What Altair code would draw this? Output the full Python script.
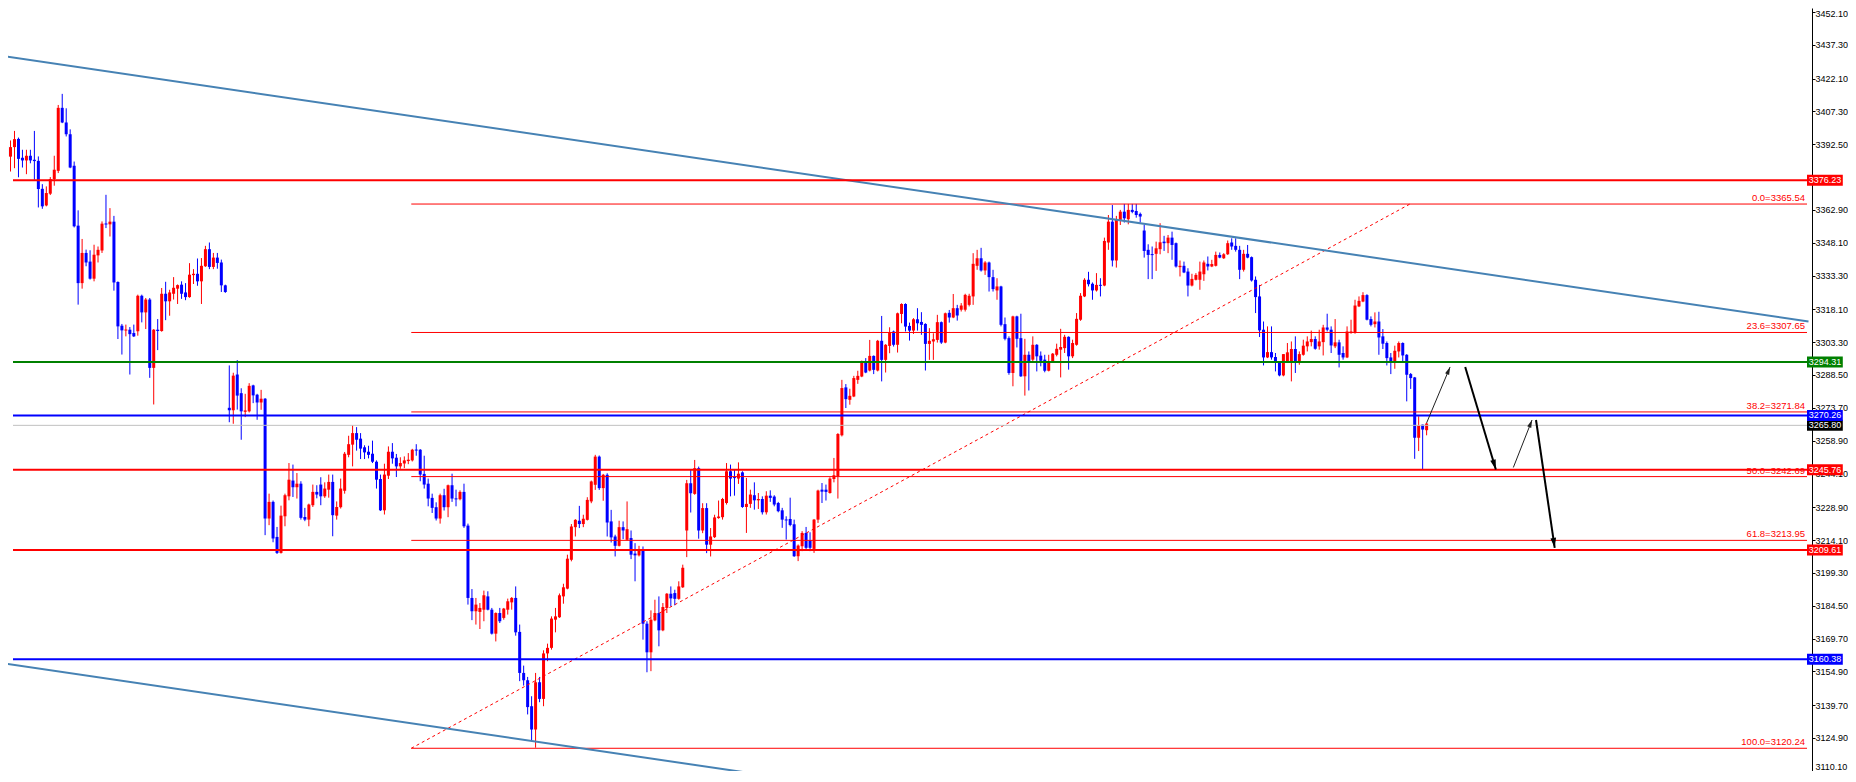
import math
import altair as alt
import pandas as pd

# ---------------- candle data (bar index 0..357) -------------
OPEN = [
3391.8, 3386.9, 3391.2, 3394.9, 3386.4, 3385.2, 3387.3, 3385.5, 3385.0, 3372.4,
3364.9, 3370.2, 3376.8, 3380.5, 3408.9, 3402.3, 3397.0, 3382.8, 3355.8, 3329.9,
3343.5, 3339.6, 3331.9, 3342.4, 3344.6, 3356.7, 3356.4, 3357.6, 3330.4, 3310.7,
3308.6, 3308.9, 3307.4, 3308.2, 3324.2, 3316.7, 3322.5, 3291.7, 3308.9, 3308.3,
3325.1, 3321.7, 3325.1, 3327.4, 3329.2, 3325.7, 3323.6, 3333.5, 3334.1, 3330.7,
3337.5, 3345.2, 3337.2, 3341.4, 3339.2, 3328.9, 3273.7, 3272.6, 3288.7, 3280.3,
3271.9, 3272.1, 3283.8, 3279.6, 3276.1, 3277.8, 3223.8, 3231.3, 3215.5, 3208.3,
3224.8, 3233.8, 3240.9, 3237.9, 3239.5, 3224.5, 3223.3, 3229.8, 3235.8, 3239.1,
3233.8, 3236.8, 3240.3, 3225.1, 3228.9, 3236.3, 3252.5, 3257.1, 3262.3, 3259.8,
3255.9, 3253.9, 3253.0, 3249.4, 3241.6, 3227.5, 3243.1, 3253.9, 3251.2, 3247.3,
3248.6, 3249.7, 3250.0, 3254.8, 3254.8, 3243.9, 3239.5, 3233.1, 3228.9, 3223.8,
3234.3, 3228.9, 3238.8, 3232.8, 3232.5, 3235.8, 3220.6, 3188.0, 3182.0, 3181.7,
3182.7, 3188.7, 3182.7, 3171.9, 3181.2, 3179.0, 3182.7, 3186.0, 3188.0, 3172.7,
3154.2, 3150.9, 3139.2, 3128.7, 3150.0, 3142.5, 3163.0, 3165.5, 3178.2, 3179.3,
3188.7, 3192.2, 3205.2, 3219.9, 3222.8, 3221.3, 3223.2, 3231.5, 3239.0, 3251.7,
3237.5, 3243.5, 3222.5, 3215.7, 3211.5, 3219.9, 3214.2, 3215.0, 3208.0, 3207.2,
3210.0, 3176.4, 3163.5, 3177.9, 3181.2, 3173.4, 3183.5, 3189.9, 3190.2, 3187.6,
3192.8, 3218.4, 3239.7, 3234.9, 3246.5, 3218.4, 3228.5, 3212.0, 3215.4, 3224.0,
3224.4, 3230.8, 3245.1, 3242.4, 3241.8, 3244.6, 3229.0, 3230.4, 3234.3, 3232.0,
3232.6, 3226.6, 3234.1, 3233.7, 3230.8, 3227.5, 3223.3, 3223.6, 3221.2, 3206.8,
3211.3, 3217.3, 3214.0, 3210.1, 3223.3, 3236.8, 3236.8, 3235.3, 3241.6, 3242.8,
3261.3, 3282.9, 3277.3, 3278.8, 3286.3, 3287.8, 3294.6, 3290.5, 3297.1, 3290.5,
3303.9, 3295.3, 3301.6, 3308.1, 3302.1, 3316.0, 3320.5, 3310.6, 3308.5, 3313.6,
3312.4, 3311.5, 3302.5, 3303.6, 3304.3, 3312.3, 3303.1, 3316.5, 3314.4, 3318.6,
3317.9, 3317.9, 3320.1, 3323.9, 3337.7, 3341.1, 3335.6, 3339.2, 3332.6, 3326.6,
3328.4, 3311.4, 3305.1, 3289.4, 3314.9, 3305.1, 3287.9, 3297.6, 3295.4, 3302.1,
3297.2, 3295.4, 3290.4, 3294.6, 3297.6, 3299.9, 3300.6, 3305.7, 3296.9, 3302.1,
3313.4, 3323.9, 3331.4, 3329.6, 3326.6, 3329.1, 3328.8, 3348.2, 3357.6, 3340.1,
3358.4, 3362.1, 3358.7, 3362.9, 3362.4, 3361.1, 3353.6, 3344.9, 3342.9, 3343.1,
3345.2, 3348.6, 3347.9, 3350.4, 3347.9, 3337.1, 3337.7, 3335.1, 3328.8, 3331.4,
3331.4, 3333.9, 3338.6, 3337.4, 3337.7, 3342.6, 3341.1, 3342.9, 3348.2, 3346.7,
3344.9, 3335.9, 3343.1, 3341.6, 3331.4, 3323.9, 3308.9, 3296.4, 3298.8, 3296.6,
3294.2, 3288.3, 3294.6, 3293.9, 3300.2, 3293.9, 3297.6, 3301.4, 3303.3, 3304.7,
3301.4, 3303.3, 3309.9, 3308.9, 3301.4, 3303.2, 3298.4, 3296.4, 3307.4, 3307.4,
3319.4, 3321.6, 3324.5, 3313.7, 3311.4, 3312.6, 3305.9, 3302.9, 3296.4, 3293.9,
3299.1, 3302.9, 3297.6, 3288.9, 3287.4, 3260.2, 3266.1, 3263.6,
]
HIGH = [
3392.9, 3394.2, 3398.5, 3395.5, 3390.0, 3390.0, 3390.0, 3398.5, 3387.0, 3374.5,
3373.5, 3377.7, 3387.3, 3410.2, 3415.2, 3408.7, 3399.2, 3384.7, 3362.7, 3349.8,
3345.0, 3344.7, 3347.2, 3346.4, 3357.7, 3369.7, 3363.7, 3360.2, 3330.7, 3311.5,
3311.2, 3310.1, 3311.2, 3324.7, 3324.7, 3323.2, 3323.2, 3309.2, 3313.7, 3327.7,
3330.5, 3326.9, 3332.6, 3329.3, 3330.7, 3329.9, 3338.9, 3336.2, 3341.0, 3341.2,
3346.7, 3348.2, 3343.5, 3343.5, 3340.5, 3329.2, 3292.8, 3289.5, 3295.2, 3282.5,
3280.0, 3284.8, 3284.1, 3280.0, 3281.8, 3278.1, 3235.0, 3231.9, 3220.0, 3229.6,
3235.0, 3248.8, 3248.1, 3244.3, 3240.6, 3228.6, 3230.5, 3239.1, 3238.8, 3242.4,
3240.1, 3243.6, 3243.6, 3231.5, 3241.8, 3253.8, 3261.1, 3265.9, 3265.0, 3262.3,
3256.8, 3256.6, 3258.9, 3250.0, 3243.6, 3248.5, 3256.3, 3257.8, 3252.9, 3251.4,
3251.8, 3253.3, 3255.2, 3257.3, 3255.1, 3252.1, 3241.8, 3235.0, 3231.1, 3235.0,
3237.2, 3239.1, 3244.0, 3236.8, 3236.5, 3239.5, 3221.5, 3192.0, 3188.0, 3185.7,
3191.3, 3191.0, 3183.5, 3181.5, 3183.5, 3183.5, 3187.7, 3188.4, 3193.2, 3176.0,
3157.5, 3152.4, 3143.7, 3154.2, 3152.4, 3164.4, 3167.4, 3179.7, 3183.5, 3190.0,
3194.4, 3207.5, 3221.3, 3223.5, 3229.5, 3225.5, 3233.4, 3240.9, 3252.5, 3252.2,
3243.9, 3244.2, 3227.7, 3216.5, 3222.8, 3222.5, 3231.5, 3218.4, 3212.7, 3211.5,
3211.2, 3177.5, 3182.4, 3187.2, 3188.7, 3185.7, 3190.2, 3193.2, 3191.7, 3195.5,
3203.0, 3241.2, 3245.7, 3250.2, 3247.2, 3230.7, 3230.7, 3219.5, 3225.5, 3231.9,
3233.1, 3248.8, 3248.1, 3245.8, 3249.1, 3245.1, 3242.1, 3236.8, 3240.1, 3235.3,
3233.8, 3236.1, 3236.5, 3234.3, 3231.3, 3228.6, 3224.8, 3233.2, 3223.3, 3212.1,
3218.1, 3220.0, 3217.6, 3223.6, 3236.8, 3239.8, 3239.1, 3242.4, 3251.1, 3262.3,
3286.3, 3284.4, 3282.3, 3288.1, 3290.4, 3295.0, 3296.1, 3304.3, 3297.3, 3304.3,
3315.1, 3302.4, 3310.0, 3308.5, 3316.6, 3320.8, 3320.8, 3312.1, 3314.1, 3318.6,
3316.8, 3311.8, 3309.6, 3307.3, 3315.6, 3312.6, 3316.6, 3317.8, 3325.0, 3320.1,
3320.9, 3325.1, 3325.1, 3343.4, 3344.9, 3345.8, 3339.8, 3339.6, 3335.9, 3332.1,
3328.7, 3314.4, 3305.9, 3315.2, 3315.2, 3316.1, 3304.8, 3299.1, 3305.9, 3302.4,
3299.1, 3297.6, 3297.6, 3298.4, 3302.6, 3309.3, 3306.6, 3305.9, 3304.4, 3316.4,
3325.4, 3332.1, 3335.0, 3330.2, 3334.4, 3332.1, 3350.4, 3360.6, 3365.1, 3360.2,
3362.9, 3365.6, 3365.6, 3365.6, 3365.6, 3361.7, 3356.1, 3347.4, 3346.4, 3348.6,
3356.9, 3351.2, 3351.6, 3353.1, 3348.2, 3340.1, 3339.6, 3336.6, 3334.1, 3334.4,
3339.6, 3340.1, 3341.9, 3340.4, 3344.1, 3343.7, 3343.4, 3349.1, 3350.1, 3350.1,
3346.7, 3344.9, 3347.1, 3341.9, 3332.9, 3329.1, 3312.6, 3310.4, 3310.4, 3298.4,
3294.6, 3297.9, 3302.9, 3303.6, 3305.9, 3299.1, 3304.4, 3305.9, 3308.5, 3305.9,
3308.9, 3311.1, 3316.1, 3310.4, 3313.7, 3304.4, 3301.4, 3310.4, 3313.4, 3322.4,
3323.9, 3325.8, 3324.9, 3314.9, 3316.7, 3317.0, 3309.2, 3303.6, 3298.4, 3301.7,
3303.6, 3303.2, 3297.9, 3289.4, 3287.6, 3269.9, 3266.1, 3266.9,
]
LOW = [
3383.9, 3380.2, 3381.7, 3377.6, 3382.0, 3379.0, 3383.9, 3376.5, 3364.0, 3363.4,
3364.5, 3369.6, 3373.8, 3379.5, 3402.0, 3396.0, 3381.7, 3355.0, 3320.2, 3327.4,
3337.5, 3331.5, 3330.7, 3339.2, 3343.5, 3354.7, 3350.9, 3326.5, 3304.7, 3297.7,
3305.9, 3288.7, 3305.6, 3306.2, 3312.2, 3309.2, 3287.2, 3275.2, 3299.7, 3308.0,
3313.2, 3315.2, 3322.5, 3320.5, 3322.8, 3322.2, 3323.3, 3329.5, 3328.7, 3320.5,
3337.2, 3336.2, 3336.2, 3336.4, 3325.9, 3325.5, 3267.2, 3266.5, 3272.9, 3259.3,
3269.5, 3271.6, 3275.8, 3268.3, 3272.8, 3216.3, 3220.8, 3213.1, 3207.8, 3208.0,
3220.3, 3232.0, 3233.5, 3232.8, 3223.3, 3222.6, 3220.3, 3229.0, 3232.9, 3229.8,
3233.1, 3233.2, 3215.8, 3223.3, 3228.3, 3235.0, 3251.4, 3247.3, 3254.4, 3250.6,
3250.6, 3250.9, 3248.8, 3237.3, 3227.2, 3225.6, 3241.6, 3248.5, 3242.5, 3246.2,
3246.5, 3248.3, 3249.5, 3252.1, 3240.6, 3237.3, 3229.3, 3226.3, 3222.9, 3221.5,
3227.4, 3224.4, 3231.3, 3229.3, 3232.0, 3219.6, 3185.0, 3178.0, 3176.0, 3174.0,
3177.5, 3182.4, 3171.5, 3168.4, 3176.7, 3178.2, 3180.5, 3182.7, 3171.0, 3150.5,
3148.5, 3135.5, 3123.5, 3120.5, 3141.0, 3139.2, 3159.5, 3164.7, 3172.5, 3179.0,
3185.4, 3191.9, 3204.5, 3215.7, 3219.5, 3219.9, 3222.9, 3230.7, 3236.7, 3236.7,
3231.8, 3215.7, 3213.0, 3206.7, 3211.2, 3214.5, 3213.9, 3205.5, 3195.5, 3206.7,
3169.2, 3154.5, 3155.0, 3177.5, 3166.2, 3173.0, 3181.2, 3184.2, 3184.7, 3187.2,
3192.5, 3206.4, 3226.5, 3234.5, 3214.7, 3217.2, 3208.2, 3206.7, 3215.0, 3223.7,
3223.3, 3230.1, 3233.8, 3234.1, 3239.4, 3228.6, 3217.3, 3228.6, 3227.8, 3228.1,
3225.6, 3225.6, 3231.3, 3229.3, 3226.6, 3219.6, 3214.3, 3220.3, 3206.5, 3204.6,
3209.1, 3209.8, 3209.1, 3208.3, 3221.8, 3230.8, 3231.9, 3235.0, 3240.1, 3232.8,
3260.8, 3273.6, 3275.1, 3278.5, 3284.5, 3287.5, 3289.3, 3290.1, 3288.9, 3290.1,
3285.6, 3289.6, 3298.3, 3301.3, 3298.6, 3311.8, 3308.1, 3304.0, 3307.0, 3308.5,
3306.6, 3290.5, 3295.3, 3295.3, 3303.1, 3302.5, 3302.8, 3312.1, 3314.1, 3313.0,
3317.1, 3317.1, 3319.4, 3320.1, 3335.9, 3335.1, 3333.6, 3326.1, 3326.1, 3322.4,
3310.4, 3304.1, 3288.6, 3283.4, 3300.9, 3287.6, 3279.2, 3281.5, 3293.9, 3290.1,
3292.4, 3289.7, 3290.1, 3294.3, 3296.9, 3287.4, 3298.4, 3290.9, 3296.1, 3301.7,
3312.9, 3323.6, 3328.4, 3322.4, 3326.1, 3323.9, 3328.5, 3344.9, 3337.4, 3336.9,
3356.1, 3357.2, 3356.4, 3361.4, 3359.4, 3357.2, 3341.4, 3331.7, 3331.7, 3335.4,
3342.9, 3344.4, 3343.4, 3340.4, 3336.9, 3332.9, 3334.4, 3323.9, 3328.4, 3331.1,
3326.9, 3330.9, 3335.6, 3337.1, 3337.4, 3341.1, 3340.8, 3342.6, 3344.9, 3344.1,
3331.7, 3335.1, 3341.1, 3330.6, 3316.4, 3305.6, 3292.8, 3296.1, 3295.4, 3290.1,
3287.9, 3287.9, 3293.9, 3285.6, 3289.4, 3293.1, 3297.2, 3299.1, 3301.4, 3299.9,
3299.9, 3297.3, 3308.1, 3298.4, 3300.6, 3291.9, 3295.4, 3296.1, 3307.1, 3307.1,
3319.1, 3321.3, 3313.1, 3310.4, 3309.9, 3297.6, 3300.2, 3292.8, 3288.9, 3291.3,
3296.4, 3293.9, 3276.6, 3282.2, 3250.7, 3254.2, 3245.9, 3261.3,
]
CLOSE = [
3386.9, 3391.2, 3394.8, 3385.9, 3385.2, 3387.3, 3385.2, 3384.9, 3372.3, 3364.5,
3370.5, 3376.8, 3381.0, 3408.9, 3402.3, 3397.0, 3382.0, 3355.5, 3329.9, 3343.5,
3339.2, 3331.9, 3342.7, 3344.9, 3356.7, 3356.4, 3357.6, 3330.2, 3310.4, 3308.6,
3308.9, 3306.9, 3305.9, 3324.2, 3316.7, 3322.5, 3291.7, 3308.9, 3308.3, 3325.1,
3321.7, 3325.7, 3327.8, 3329.0, 3325.1, 3323.6, 3333.7, 3334.1, 3330.7, 3337.7,
3345.2, 3337.2, 3341.4, 3339.0, 3328.9, 3325.9, 3272.6, 3288.2, 3279.2, 3272.1,
3272.5, 3283.6, 3279.3, 3276.1, 3277.8, 3223.8, 3231.3, 3214.8, 3208.3, 3225.1,
3234.3, 3241.3, 3237.9, 3239.5, 3224.1, 3223.3, 3230.1, 3235.8, 3234.6, 3233.8,
3237.3, 3240.3, 3225.3, 3229.0, 3237.3, 3253.0, 3257.3, 3262.3, 3259.3, 3255.3,
3253.6, 3252.5, 3249.4, 3241.3, 3227.5, 3243.6, 3253.9, 3250.9, 3247.3, 3248.8,
3250.0, 3250.3, 3254.8, 3254.5, 3243.6, 3239.1, 3232.8, 3228.6, 3223.8, 3234.3,
3228.9, 3238.8, 3232.8, 3232.5, 3235.8, 3220.3, 3188.0, 3182.0, 3185.0, 3183.5,
3189.2, 3182.7, 3171.9, 3181.2, 3177.5, 3183.2, 3186.5, 3188.0, 3172.5, 3154.2,
3150.9, 3138.8, 3128.7, 3150.0, 3142.5, 3163.0, 3165.5, 3178.7, 3179.7, 3189.2,
3192.8, 3205.7, 3220.2, 3223.2, 3221.3, 3223.7, 3232.2, 3240.5, 3251.7, 3237.5,
3243.5, 3222.0, 3215.3, 3211.5, 3219.9, 3218.4, 3219.0, 3207.5, 3207.2, 3210.0,
3176.4, 3163.5, 3178.2, 3181.2, 3173.4, 3183.9, 3189.9, 3187.8, 3187.6, 3193.2,
3201.6, 3239.7, 3235.2, 3246.5, 3218.4, 3228.5, 3212.0, 3215.7, 3224.3, 3224.7,
3232.6, 3245.1, 3241.8, 3242.1, 3244.0, 3229.0, 3230.4, 3234.6, 3232.0, 3232.6,
3226.6, 3234.1, 3233.1, 3230.1, 3227.1, 3223.3, 3223.0, 3220.9, 3206.8, 3211.6,
3217.3, 3210.6, 3210.6, 3223.3, 3236.4, 3235.9, 3235.8, 3241.8, 3243.3, 3261.9,
3282.6, 3277.6, 3279.1, 3287.1, 3288.1, 3294.6, 3289.6, 3297.1, 3290.8, 3303.9,
3295.3, 3302.1, 3307.6, 3302.1, 3316.3, 3320.5, 3310.3, 3308.5, 3313.6, 3311.8,
3311.1, 3302.5, 3303.9, 3304.6, 3312.3, 3303.1, 3316.3, 3314.4, 3318.6, 3315.3,
3319.8, 3324.6, 3324.2, 3338.6, 3341.1, 3335.6, 3339.2, 3332.6, 3327.2, 3328.4,
3311.1, 3304.8, 3289.4, 3314.9, 3304.8, 3287.9, 3297.6, 3293.9, 3302.1, 3296.9,
3294.9, 3290.4, 3294.6, 3298.1, 3300.3, 3301.1, 3305.7, 3296.9, 3302.9, 3313.8,
3324.2, 3331.4, 3329.4, 3326.6, 3329.1, 3328.7, 3348.9, 3357.6, 3340.1, 3358.7,
3362.1, 3359.1, 3362.9, 3362.0, 3360.6, 3359.9, 3344.4, 3342.6, 3342.6, 3345.6,
3348.3, 3347.9, 3350.4, 3347.1, 3337.4, 3337.7, 3334.7, 3328.8, 3331.8, 3333.6,
3335.1, 3339.2, 3337.4, 3338.5, 3342.6, 3341.4, 3342.9, 3347.9, 3346.4, 3344.9,
3335.9, 3343.1, 3341.4, 3331.1, 3323.6, 3308.6, 3296.4, 3298.8, 3296.4, 3293.9,
3288.3, 3297.9, 3298.7, 3300.2, 3293.9, 3297.9, 3301.7, 3303.6, 3304.7, 3300.3,
3303.6, 3309.9, 3308.9, 3301.8, 3303.2, 3297.6, 3296.4, 3308.1, 3308.1, 3319.8,
3321.9, 3324.5, 3313.4, 3311.1, 3312.6, 3305.4, 3302.6, 3296.1, 3293.9, 3299.4,
3302.9, 3297.3, 3288.6, 3287.1, 3260.2, 3265.7, 3263.9, 3266.6,
]

# ---------------- horizontal price levels --------------------------------------------
LEVEL_PRICE = [3265.80, 3376.23, 3294.31, 3270.26, 3245.76, 3209.61, 3160.38]
LEVEL_LINE_COLOR = ["#c0c0c0", "#ff0000", "#008000", "#0000ff", "#ff0000", "#ff0000", "#0000ff"]
LEVEL_BOX_COLOR = ["#000000", "#ff0000", "#008000", "#0000ff", "#ff0000", "#ff0000", "#0000ff"]
LEVEL_LINE_WIDTH = [1, 2, 2, 2, 2, 2, 2]

# ---------------- Fibonacci retracement ----------------------------------------------
FIB_RATIO = ["0.0", "23.6", "38.2", "50.0", "61.8", "100.0"]
FIB_PRICE = [3365.54, 3307.65, 3271.84, 3242.69, 3213.95, 3120.24]
FIB_START_BAR = 101.75
FIB_TREND_BAR = [101.75, 352.8]
FIB_TREND_PRICE = [3120.24, 3365.54]

# ---------------- channel lines (bar index, price) -----------------------------------
CHANNEL_BAR0 = [0.0, 0.0]
CHANNEL_P0 = [3432.0, 3158.3]
CHANNEL_BAR1 = [453.0, 202.0]
CHANNEL_P1 = [3312.6, 3105.1]

# ---------------- projected path arrows ----------------------------------------------
ARROW_BAR0 = [357.0, 366.7, 378.8, 384.5]
ARROW_P0 = [3266.9, 3292.1, 3246.8, 3268.2]
ARROW_BAR1 = [362.9, 374.4, 383.5, 389.2]
ARROW_P1 = [3292.1, 3245.9, 3268.2, 3210.6]

AXIS_TICKS = [3452.10, 3437.30, 3422.10, 3407.30, 3392.50, 3362.90, 3348.10,
              3333.30, 3318.10, 3303.30, 3288.50, 3273.70, 3258.90, 3244.10, 3228.90,
              3214.10, 3199.30, 3184.50, 3169.70, 3154.90, 3139.70, 3124.90, 3110.10]

# ---------------- layout -------------------------------------------------------------
PLOT_W, PLOT_H = 1804, 763
RIGHT_PAD = 36
X_LO, X_HI = 1.625, 452.625          # bar-index domain of the plot area
Y_LO, Y_HI = 3110.0, 3453.9          # price domain of the plot area
PX_PER_BAR = PLOT_W / (X_HI - X_LO)
PX_PER_PT = PLOT_H / (Y_HI - Y_LO)
BOX_X1 = X_HI + RIGHT_PAD / PX_PER_BAR
BOX_XMID = (X_HI + BOX_X1) / 2
BOX_HALF = 5.5 / PX_PER_PT
FONT = "Liberation Sans"

xs = alt.Scale(domain=[X_LO, X_HI], nice=False, zero=False)
ys = alt.Scale(domain=[Y_LO, Y_HI], nice=False, zero=False)

yaxis = alt.Axis(orient="right", values=AXIS_TICKS, format=".2f", title=None, grid=False,
                 labelFont=FONT, labelFontSize=9, labelColor="#000000", tickColor="#000000",
                 tickSize=3, domainColor="#000000", domainWidth=1, labelPadding=0,
                 labelOverlap=False, labelFlush=False,
                 labelOffset={"condition": [{"test": "datum.value > 3450", "value": 2},
                                            {"test": "datum.value < 3111", "value": -4}],
                              "value": 0})


def X(field):
    return alt.X(field, scale=xs, axis=None)


def Y(field):
    return alt.Y(field, scale=ys, axis=yaxis)


n = min(len(OPEN), len(HIGH), len(LOW), len(CLOSE))
df = pd.DataFrame({"i": list(range(n)), "o": OPEN[:n], "h": HIGH[:n], "l": LOW[:n], "c": CLOSE[:n]})
df["dir"] = ["up" if c >= o else "down" for o, c in zip(df.o, df.c)]
top = df[["o", "c"]].max(axis=1)
bot = df[["o", "c"]].min(axis=1)
minh = 1.0 / PX_PER_PT
mid = (top + bot) / 2
small = (top - bot) < minh
df["top"] = top.where(~small, mid + minh / 2)
df["bot"] = bot.where(~small, mid - minh / 2)
df["hi"] = pd.concat([df.h, df.top], axis=1).max(axis=1)
df["lo"] = pd.concat([df.l, df.bot], axis=1).min(axis=1)

candle_color = alt.Color("dir:N", scale=alt.Scale(domain=["up", "down"], range=["#ff0000", "#0000ff"]), legend=None)

wick = alt.Chart(df).mark_rule(strokeWidth=1, clip=True).encode(
    x=X("i:Q"), y=Y("lo:Q"), y2="hi:Q", color=candle_color)
body = alt.Chart(df).mark_bar(size=3, clip=True, orient="vertical").encode(
    x=X("i:Q"), y=Y("top:Q"), y2="bot:Q", color=candle_color)

# Fibonacci
fib = pd.DataFrame({"p": FIB_PRICE, "x0": FIB_START_BAR, "x1": X_HI,
                    "lab": [f"{r}={p:.2f}" for r, p in zip(FIB_RATIO, FIB_PRICE)],
                    "xt": X_HI - 2 / PX_PER_BAR})
fib_lines = alt.Chart(fib).mark_rule(color="#ff0000", strokeWidth=1).encode(
    x=X("x0:Q"), x2="x1:Q", y=Y("p:Q"))
fib_text = alt.Chart(fib).mark_text(align="right", baseline="bottom", dy=-1, font=FONT,
                                    fontSize=9.5, color="#ff0000").encode(
    x=X("xt:Q"), y=Y("p:Q"), text="lab:N")
trend = pd.DataFrame({"x0": [FIB_TREND_BAR[0]], "x1": [FIB_TREND_BAR[1]],
                      "p0": [FIB_TREND_PRICE[0]], "p1": [FIB_TREND_PRICE[1]]})
fib_trend = alt.Chart(trend).mark_rule(color="#ff0000", strokeWidth=1, strokeDash=[3, 3], clip=True).encode(
    x=X("x0:Q"), x2="x1:Q", y=Y("p0:Q"), y2="p1:Q")

# channel
ch = pd.DataFrame({"x0": CHANNEL_BAR0, "x1": CHANNEL_BAR1, "p0": CHANNEL_P0, "p1": CHANNEL_P1})
channel = alt.Chart(ch).mark_rule(color="#4682b4", strokeWidth=2, clip=True).encode(
    x=X("x0:Q"), x2="x1:Q", y=Y("p0:Q"), y2="p1:Q")

# levels
lv = pd.DataFrame({"p": LEVEL_PRICE, "col": LEVEL_LINE_COLOR, "box": LEVEL_BOX_COLOR,
                   "w": LEVEL_LINE_WIDTH, "x0": X_LO, "x1": X_HI,
                   "bx0": X_HI, "bx1": BOX_X1, "bxm": BOX_XMID,
                   "yt": [p + BOX_HALF for p in LEVEL_PRICE], "yb": [p - BOX_HALF for p in LEVEL_PRICE],
                   "lab": [f"{p:.2f}" for p in LEVEL_PRICE]})
levels = alt.Chart(lv).mark_rule().encode(
    x=X("x0:Q"), x2="x1:Q", y=Y("p:Q"),
    color=alt.Color("col:N", scale=None),
    strokeWidth=alt.StrokeWidth("w:Q", scale=None))
boxes = alt.Chart(lv).mark_rect(clip=False).encode(
    x=X("bx0:Q"), x2="bx1:Q", y=Y("yt:Q"), y2="yb:Q",
    color=alt.Color("box:N", scale=None))
box_text = alt.Chart(lv).mark_text(align="center", baseline="middle", font=FONT, fontSize=9,
                                   color="#ffffff", clip=False).encode(
    x=X("bxm:Q"), y=Y("p:Q"), text="lab:N")

# arrows
ang = []
for x0, p0, x1, p1 in zip(ARROW_BAR0, ARROW_P0, ARROW_BAR1, ARROW_P1):
    dx = (x1 - x0) * PX_PER_BAR
    dy = (p1 - p0) * PX_PER_PT
    ang.append(math.degrees(math.atan2(dx, dy)) % 360)
ar = pd.DataFrame({"x0": ARROW_BAR0, "p0": ARROW_P0, "x1": ARROW_BAR1, "p1": ARROW_P1,
                   "ang": ang, "col": ["#202020", "#000000", "#202020", "#000000"],
                   "w": [1, 2, 1, 2], "sz": [120, 200, 120, 200]})
arrow_lines = alt.Chart(ar).mark_rule().encode(
    x=X("x0:Q"), x2="x1:Q", y=Y("p0:Q"), y2="p1:Q",
    color=alt.Color("col:N", scale=None),
    strokeWidth=alt.StrokeWidth("w:Q", scale=None))
arrow_heads = alt.Chart(ar).mark_point(shape="M0,0L-0.4,1.4L0.4,1.4Z", filled=True, opacity=1,
                                       strokeWidth=0).encode(
    x=X("x1:Q"), y=Y("p1:Q"),
    angle=alt.Angle("ang:Q", scale=None),
    size=alt.Size("sz:Q", scale=None),
    color=alt.Color("col:N", scale=None))

chart = alt.layer(
    wick, body, fib_lines, fib_trend, channel, levels, fib_text,
    arrow_lines, arrow_heads, boxes, box_text,
).properties(
    width=PLOT_W, height=PLOT_H,
    padding={"left": 0, "top": 0, "right": RIGHT_PAD, "bottom": 0},
    autosize=alt.AutoSizeParams(type="none"),
    background="#ffffff",
).configure_view(stroke=None)

chart.save("out.html", embed_options={"renderer": "svg", "actions": False})
